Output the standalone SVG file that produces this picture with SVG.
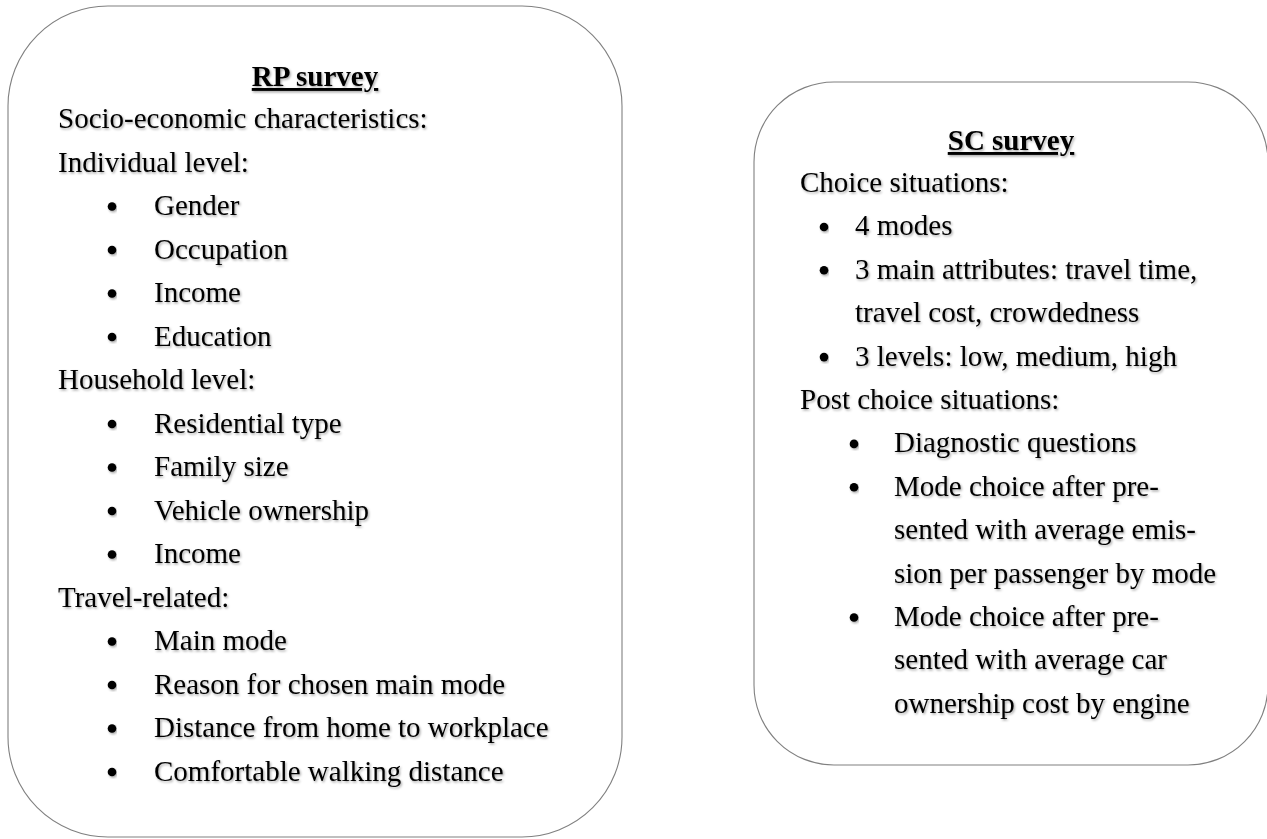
<svg xmlns="http://www.w3.org/2000/svg" width="1267" height="839" viewBox="0 0 1267 839">
<defs>
<filter id="sh" x="-5%" y="-30%" width="110%" height="160%">
<feDropShadow dx="1.2" dy="1.5" stdDeviation="1" flood-color="#000" flood-opacity="0.35"/>
</filter>
</defs>
<style>
.box{fill:#fff;stroke:#808080;stroke-width:1.1}
text{font-family:"Liberation Serif","Times New Roman",serif;font-size:29px;fill:#000;filter:url(#sh)}
.title{font-weight:bold;text-decoration:underline;text-anchor:middle}
.b{fill:#000;filter:url(#sh)}
</style>
<rect width="1267" height="839" fill="#fff"/>
<g id="rp">
<rect class="box" x="8" y="6" width="614" height="831" rx="100" ry="100"/>
<text class="title" x="315" y="86">RP survey</text>
<text x="58" y="128">Socio-economic characteristics:</text>
<text x="58" y="171.5">Individual level:</text>
<circle class="b" cx="112" cy="206.5" r="4.3"/><text x="154" y="215">Gender</text>
<circle class="b" cx="112" cy="250" r="4.3"/><text x="154" y="258.5">Occupation</text>
<circle class="b" cx="112" cy="293.5" r="4.3"/><text x="154" y="302">Income</text>
<circle class="b" cx="112" cy="337" r="4.3"/><text x="154" y="345.5">Education</text>
<text x="58" y="389">Household level:</text>
<circle class="b" cx="112" cy="424" r="4.3"/><text x="154" y="432.5">Residential type</text>
<circle class="b" cx="112" cy="467.5" r="4.3"/><text x="154" y="476">Family size</text>
<circle class="b" cx="112" cy="511" r="4.3"/><text x="154" y="519.5">Vehicle ownership</text>
<circle class="b" cx="112" cy="554.5" r="4.3"/><text x="154" y="563">Income</text>
<text x="58" y="606.5">Travel-related:</text>
<circle class="b" cx="112" cy="641.5" r="4.3"/><text x="154" y="650">Main mode</text>
<circle class="b" cx="112" cy="685" r="4.3"/><text x="154" y="693.5">Reason for chosen main mode</text>
<circle class="b" cx="112" cy="728.5" r="4.3"/><text x="154" y="737">Distance from home to workplace</text>
<circle class="b" cx="112" cy="772" r="4.3"/><text x="154" y="780.5">Comfortable walking distance</text>
</g>
<g id="sc">
<rect class="box" x="754" y="82" width="514" height="683" rx="80" ry="80"/>
<text class="title" x="1011" y="150">SC survey</text>
<text x="800" y="192">Choice situations:</text>
<circle class="b" cx="824" cy="227" r="4.3"/><text x="855" y="235.4">4 modes</text>
<circle class="b" cx="824" cy="270.3" r="4.3"/><text x="855" y="278.8">3 main attributes: travel time,</text>
<text x="855" y="322.2">travel cost, crowdedness</text>
<circle class="b" cx="824" cy="357.1" r="4.3"/><text x="855" y="365.6">3 levels: low, medium, high</text>
<text x="800" y="409">Post choice situations:</text>
<circle class="b" cx="854" cy="443.9" r="4.3"/><text x="894" y="452.4">Diagnostic questions</text>
<circle class="b" cx="854" cy="487.3" r="4.3"/><text x="894" y="495.8">Mode choice after pre-</text>
<text x="894" y="539.2">sented with average emis-</text>
<text x="894" y="582.6">sion per passenger by mode</text>
<circle class="b" cx="854" cy="617.5" r="4.3"/><text x="894" y="626">Mode choice after pre-</text>
<text x="894" y="669.4">sented with average car</text>
<text x="894" y="712.8">ownership cost by engine</text>
</g>
<g id="connectors"/>
</svg>
